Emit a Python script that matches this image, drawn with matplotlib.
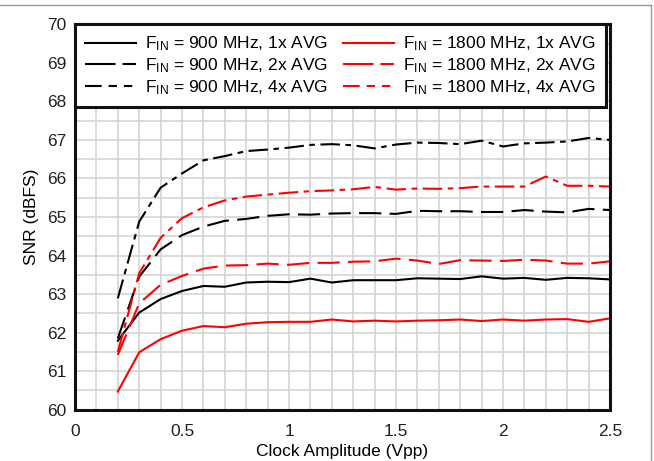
import matplotlib
matplotlib.use("Agg")
import matplotlib.pyplot as plt
from matplotlib.lines import Line2D
import numpy as np

plt.rcParams['font.family'] = ['Liberation Sans', 'DejaVu Sans']
plt.rcParams['mathtext.fontset'] = 'custom'
plt.rcParams['mathtext.rm'] = 'Liberation Sans'
plt.rcParams['mathtext.it'] = 'Liberation Sans'
plt.rcParams['lines.scale_dashes'] = False

clock_vpp = [0.2, 0.3, 0.4, 0.5, 0.6, 0.7, 0.8, 0.9, 1.0, 1.1, 1.2, 1.3,
             1.4, 1.5, 1.6, 1.7, 1.8, 1.9, 2.0, 2.1, 2.2, 2.3, 2.4, 2.5]

snr_900_1x = [61.79, 62.52, 62.87, 63.08, 63.21, 63.19, 63.30, 63.32, 63.31, 63.40, 63.30, 63.36,
              63.36, 63.36, 63.41, 63.40, 63.39, 63.46, 63.40, 63.42, 63.37, 63.42, 63.41, 63.38]
snr_900_2x = [61.85, 63.45, 64.16, 64.53, 64.75, 64.90, 64.95, 65.03, 65.07, 65.06, 65.09, 65.10,
              65.10, 65.08, 65.16, 65.15, 65.15, 65.13, 65.13, 65.18, 65.14, 65.12, 65.21, 65.18]
snr_900_4x = [62.89, 64.88, 65.76, 66.13, 66.47, 66.58, 66.71, 66.75, 66.80, 66.87, 66.89, 66.86,
              66.78, 66.88, 66.93, 66.92, 66.89, 66.98, 66.83, 66.91, 66.93, 66.96, 67.05, 67.00]
snr_1800_1x = [60.47, 61.49, 61.83, 62.05, 62.17, 62.14, 62.23, 62.27, 62.28, 62.28, 62.34, 62.29,
               62.31, 62.29, 62.31, 62.32, 62.34, 62.30, 62.34, 62.31, 62.34, 62.35, 62.28, 62.37]
snr_1800_2x = [61.42, 62.76, 63.24, 63.47, 63.66, 63.74, 63.75, 63.79, 63.76, 63.81, 63.81, 63.84,
               63.85, 63.92, 63.87, 63.78, 63.88, 63.87, 63.86, 63.89, 63.87, 63.79, 63.79, 63.85]
snr_1800_4x = [61.50, 63.54, 64.46, 64.97, 65.25, 65.43, 65.53, 65.58, 65.63, 65.67, 65.69, 65.72,
               65.78, 65.71, 65.74, 65.73, 65.75, 65.79, 65.79, 65.79, 66.05, 65.81, 65.81, 65.79]

labels = [r"F$_{\mathrm{IN}}$ = 900 MHz, 1x AVG",
          r"F$_{\mathrm{IN}}$ = 900 MHz, 2x AVG",
          r"F$_{\mathrm{IN}}$ = 900 MHz, 4x AVG",
          r"F$_{\mathrm{IN}}$ = 1800 MHz, 1x AVG",
          r"F$_{\mathrm{IN}}$ = 1800 MHz, 2x AVG",
          r"F$_{\mathrm{IN}}$ = 1800 MHz, 4x AVG"]

series = [snr_900_1x, snr_900_2x, snr_900_4x, snr_1800_1x, snr_1800_2x, snr_1800_4x]
colors = ['black', 'black', 'black', '#ff0000', '#ff0000', '#ff0000']
dash_styles = [None, (16, 6), (14, 4, 4, 4), None, (16, 6), (14, 4, 4, 4)]

fig = plt.figure(figsize=(6.54, 4.61), dpi=100)
ax = fig.add_axes([0.1147, 0.1113, 0.8180, 0.8360])

for y, c, d, lab in zip(series, colors, dash_styles, labels):
    if d is None:
        ax.plot(clock_vpp, y, color=c, lw=1.5, label=lab, solid_joinstyle='round')
    else:
        ax.plot(clock_vpp, y, color=c, lw=1.5, dashes=d, label=lab)

ax.set_xlim(0, 2.5)
ax.set_ylim(60, 70)
ax.set_xticks(np.arange(0, 2.51, 0.5))
ax.set_xticklabels(['0', '0.5', '1', '1.5', '2', '2.5'])
ax.set_yticks(np.arange(60, 70.1, 1))
ax.set_xticks(np.arange(0, 2.51, 0.1), minor=True)
ax.set_yticks(np.arange(60, 70.1, 0.5), minor=True)
ax.grid(which='both', color='#d4d4d4', lw=1.2)
ax.set_axisbelow(True)
ax.tick_params(which='both', length=0, labelsize=12.5, colors='#222222', pad=6)
ax.tick_params(axis='x', pad=10)
for s in ax.spines.values():
    s.set_linewidth(2.2)
    s.set_color('#111111')

ax.set_xlabel('Clock Amplitude (Vpp)', fontsize=12.5, labelpad=4)
ax.set_ylabel('SNR (dBFS)', fontsize=12.5, labelpad=6)

# legend handles with their own shorter dash patterns
handles = []
leg_dashes = [None, (22, 5, 10, 5), (12, 5, 6, 5, 6, 5), None, (22, 5, 10, 5), (12, 5, 6, 5, 6, 5)]
for c, d in zip(colors, leg_dashes):
    if d is None:
        handles.append(Line2D([], [], color=c, lw=1.5))
    else:
        handles.append(Line2D([], [], color=c, lw=1.5, dashes=d))

leg = ax.legend(handles, labels, ncol=2, loc='upper left', bbox_to_anchor=(0, 0, 0.993, 1),
                mode='expand', borderaxespad=0, fancybox=False, framealpha=1,
                edgecolor='#111111', fontsize=12.5, handlelength=2.9, handletextpad=0.55,
                columnspacing=0.8, labelspacing=0.18, borderpad=0.6)
leg.get_frame().set_linewidth(2.2)

# outer gray frame (top and right edges)
fig.add_artist(Line2D([0, 651 / 654], [1 - 5 / 461, 1 - 5 / 461], color='#999999', lw=1,
                      transform=fig.transFigure))
fig.add_artist(Line2D([651 / 654, 651 / 654], [0, 1 - 5 / 461], color='#999999', lw=1,
                      transform=fig.transFigure))

fig.savefig('out.png', dpi=100)
